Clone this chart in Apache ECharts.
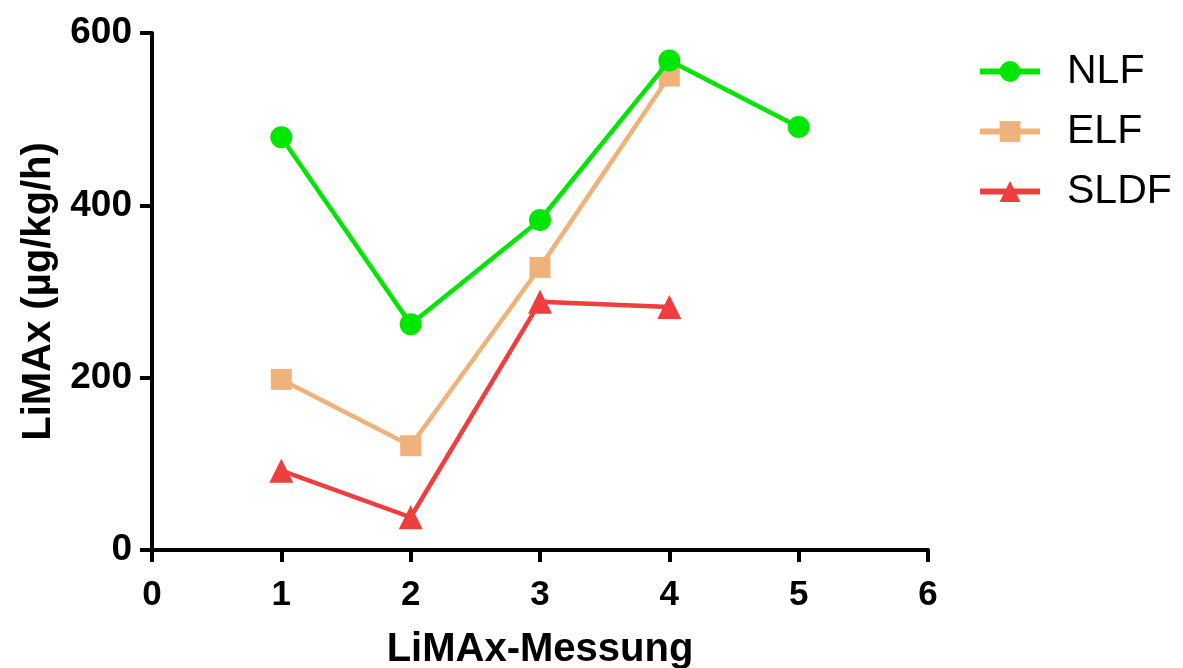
<!DOCTYPE html>
<html>
<head>
<meta charset="utf-8">
<script src="https://cdn.jsdelivr.net/npm/echarts@6/dist/echarts.min.js"></script>
<style>html,body{margin:0;padding:0;background:#fff}#c{width:1183px;height:668px}</style>
</head>
<body>
<div id="c"></div>
<script>
const seriesNames = ['NLF', 'ELF', 'SLDF'];
const xValues = [1, 2, 3, 4, 5];
const nlf = [479, 262, 383, 568, 491];
const elf = [198, 121, 328, 550];
const sldf = [92, 38, 288, 282];
const xTicks = [0, 1, 2, 3, 4, 5, 6];
const yTicks = [0, 200, 400, 600];
const xTitle = 'LiMAx-Messung';
const yTitle = 'LiMAx (µg/kg/h)';

const colors = ['#00E600', '#EFB27A', '#EE3E3E'];
const symbols = ['circle', 'rect', 'triangle'];
const sizes = [22, 21, 24];
const dataSets = [nlf, elf, sldf];

const font = 'Liberation Sans, Arial, sans-serif';
const chart = echarts.init(document.getElementById('c'));
chart.setOption({
  animation: false,
  grid: { left: 152, top: 33, right: 255, bottom: 118, containLabel: false, outerBoundsMode: 'none' },
  legend: {
    orient: 'vertical', left: 972, top: 46,
    itemWidth: 60, itemHeight: 26, itemGap: 19,
    lineStyle: { width: 6 },
    textStyle: { fontFamily: font, fontSize: 41, color: '#000', padding: [0, 0, 0, 22] },
    data: seriesNames
  },
  xAxis: {
    type: 'value', min: xTicks[0], max: xTicks[xTicks.length - 1], interval: 1,
    name: xTitle, nameLocation: 'middle', nameGap: 80,
    nameTextStyle: { fontFamily: font, fontSize: 40, fontWeight: 'bold', color: '#000' },
    axisLine: { lineStyle: { color: '#000', width: 4 } },
    axisTick: { length: 12, lineStyle: { color: '#000', width: 4 } },
    axisLabel: { fontFamily: font, fontSize: 35, fontWeight: 'bold', color: '#000', margin: 28 },
    splitLine: { show: false }
  },
  yAxis: {
    type: 'value', min: yTicks[0], max: yTicks[yTicks.length - 1], interval: 200,
    name: yTitle, nameLocation: 'middle', nameGap: 92, nameRotate: 90,
    nameTextStyle: { fontFamily: font, fontSize: 40, fontWeight: 'bold', color: '#000' },
    axisLine: { show: true, lineStyle: { color: '#000', width: 4 } },
    axisTick: { show: true, length: 12, lineStyle: { color: '#000', width: 4 } },
    axisLabel: { fontFamily: font, fontSize: 37, fontWeight: 'bold', color: '#000', margin: 20 },
    splitLine: { show: false }
  },
  series: seriesNames.map((n, i) => ({
    name: n, type: 'line',
    data: dataSets[i].map((v, j) => [xValues[j], v]),
    symbol: symbols[i], symbolSize: sizes[i],
    itemStyle: { color: colors[i] },
    lineStyle: { color: colors[i], width: 4.5 },
    z: 10 - i
  }))
});
</script>
</body>
</html>
